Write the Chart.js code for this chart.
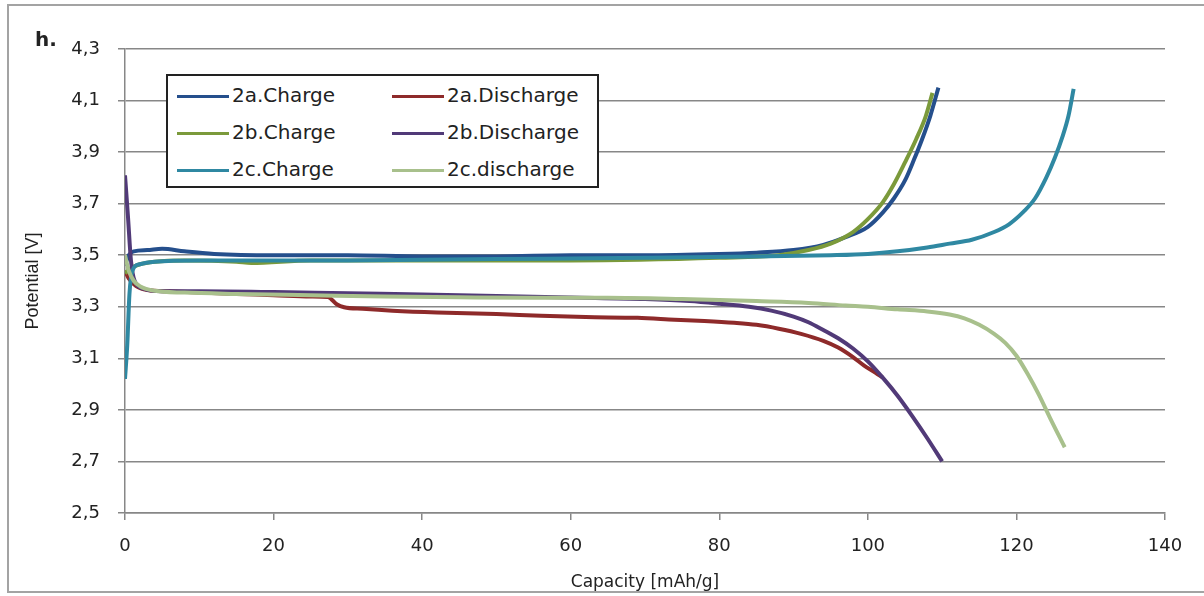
<!DOCTYPE html>
<html lang="en">
<head>
    <meta charset="UTF-8">
    <title>Potential vs Capacity</title>
    <style>
        body {
            margin: 0;
            padding: 0;
            background: #fff;
            font-family: 'DejaVu Sans', sans-serif;
        }
        .wrap {
            position: relative;
            width: 1204px;
            height: 596px;
            overflow: hidden;
        }
        .frame {
            position: absolute;
            left: 7px;
            top: 4px;
            width: 1210px;
            height: 585px;
            border: 2px solid #a3a3a3;
            border-right: none;
        }
        canvas {
            position: absolute;
            left: 0;
            top: 0;
        }
        .tag {
            position: absolute;
            left: 35px;
            top: 27px;
            font-weight: bold;
            font-size: 20px;
            color: #222;
        }
        .legend {
            position: absolute;
            left: 166px;
            top: 74px;
            width: 429px;
            height: 110px;
            border: 2px solid #222;
            background: #fff;
        }
        .legend .item {
            position: absolute;
            height: 24px;
            font-size: 20px;
            line-height: 24px;
            color: #222;
            white-space: nowrap;
        }
        .legend .swatch {
            display: inline-block;
            width: 52px;
            height: 3px;
            vertical-align: middle;
            margin-right: 3px;
        }
    </style>
</head>
<body>
<div class="wrap">
    <div class="frame"></div>
    <canvas id="chart" width="1204" height="596"></canvas>
    <div class="tag">h.</div>
    <div class="legend" id="legend"></div>
</div>

<script src="https://cdn.jsdelivr.net/npm/chart.js"></script>
<script>
    // axis ticks
    const xTicks = [0, 20, 40, 60, 80, 100, 120, 140];
    const yTicks = [2.5, 2.7, 2.9, 3.1, 3.3, 3.5, 3.7, 3.9, 4.1, 4.3];

    // 2a
    const cap2aCharge = [0, 0.5, 1.2, 3, 5, 8, 12, 20, 30, 40, 50, 60, 70, 80, 85, 90, 94, 97, 100, 102, 103.5, 105, 106.2, 107.3, 108.4, 109.5];
    const pot2aCharge = [3.46, 3.50, 3.515, 3.52, 3.525, 3.515, 3.505, 3.50, 3.50, 3.495, 3.495, 3.50, 3.50, 3.505, 3.51, 3.52, 3.54, 3.57, 3.61, 3.665, 3.72, 3.79, 3.87, 3.95, 4.04, 4.15];
    const cap2aDischarge = [0, 0.5, 1.5, 3, 6, 10, 15, 20, 25, 27.3, 28.5, 29.5, 32, 36, 42, 50, 56, 62, 69, 74, 78, 82, 85, 88, 91, 94, 96, 98, 99.5, 101, 102];
    const pot2aDischarge = [3.44, 3.41, 3.38, 3.365, 3.36, 3.355, 3.35, 3.345, 3.34, 3.338, 3.31, 3.298, 3.292, 3.285, 3.278, 3.272, 3.265, 3.26, 3.257, 3.25, 3.245, 3.238, 3.23, 3.215, 3.195, 3.168, 3.142, 3.105, 3.072, 3.045, 3.025];

    // 2b
    const cap2bCharge = [0, 0.8, 2, 4, 8, 15, 17, 25, 40, 60, 80, 88, 92, 95, 98, 100, 102, 103.5, 105, 106.5, 107.8, 108.7];
    const pot2bCharge = [3.43, 3.45, 3.465, 3.475, 3.48, 3.475, 3.47, 3.48, 3.48, 3.48, 3.49, 3.50, 3.52, 3.545, 3.59, 3.64, 3.705, 3.775, 3.86, 3.95, 4.04, 4.13];
    const cap2bDischarge = [0, 0.4, 0.8, 1.3, 2.5, 5, 10, 20, 30, 40, 50, 60, 70, 76, 80, 84, 87, 90, 92, 94, 96, 98, 100, 102, 104, 106, 108, 110];
    const pot2bDischarge = [3.81, 3.65, 3.48, 3.40, 3.37, 3.36, 3.36, 3.357, 3.352, 3.348, 3.342, 3.336, 3.33, 3.322, 3.312, 3.30, 3.285, 3.262, 3.24, 3.21, 3.178, 3.138, 3.088, 3.025, 2.955, 2.875, 2.79, 2.70];

    // 2c
    const cap2cCharge = [0, 0.3, 0.6, 1, 2, 4, 10, 30, 50, 70, 85, 95, 100, 104, 108, 111, 114, 117, 119, 121, 122.5, 124, 125.2, 126.2, 127, 127.7];
    const pot2cCharge = [3.02, 3.15, 3.35, 3.44, 3.465, 3.475, 3.48, 3.48, 3.485, 3.49, 3.495, 3.50, 3.505, 3.515, 3.53, 3.545, 3.56, 3.59, 3.62, 3.67, 3.72, 3.80, 3.88, 3.96, 4.04, 4.145];
    const cap2cDischarge = [0, 0.5, 1.2, 2, 4, 8, 15, 25, 35, 45, 55, 65, 75, 85, 92, 97, 100, 104, 108, 111, 113, 115, 117, 118.5, 120, 121.5, 123, 124.5, 126.5];
    const pot2cDischarge = [3.50, 3.44, 3.40, 3.38, 3.362, 3.355, 3.35, 3.345, 3.34, 3.337, 3.335, 3.335, 3.33, 3.322, 3.315, 3.305, 3.30, 3.29, 3.282, 3.27, 3.255, 3.23, 3.195, 3.16, 3.11, 3.04, 2.96, 2.87, 2.755];

    function toPoints(xs, ys) {
        return xs.map((x, i) => ({ x: x, y: ys[i] }));
    }

    function series(label, xs, ys, color, order) {
        return {
            label: label,
            data: toPoints(xs, ys),
            borderColor: color,
            backgroundColor: color,
            borderWidth: 4,
            pointRadius: 0,
            cubicInterpolationMode: 'monotone',
            fill: false,
            order: order
        };
    }

    const datasets = [
        series('2a.Charge', cap2aCharge, pot2aCharge, '#254f8c', 6),
        series('2a.Discharge', cap2aDischarge, pot2aDischarge, '#8e2a2a', 5),
        series('2b.Charge', cap2bCharge, pot2bCharge, '#7b9a3b', 4),
        series('2b.Discharge', cap2bDischarge, pot2bDischarge, '#513a78', 3),
        series('2c.Charge', cap2cCharge, pot2cCharge, '#2f88a2', 2),
        series('2c.discharge', cap2cDischarge, pot2cDischarge, '#a8c08c', 1)
    ];

    const gridColor = '#878787';
    const tickFont = { family: 'DejaVu Sans', size: 18 };

    const ctx = document.getElementById('chart').getContext('2d');
    const chart = new Chart(ctx, {
        type: 'line',
        data: { datasets: datasets },
        options: {
            responsive: false,
            animation: false,
            devicePixelRatio: 1,
            layout: { padding: { top: 49, right: 39, bottom: 0, left: 0 } },
            plugins: {
                legend: { display: false },
                tooltip: { enabled: false }
            },
            scales: {
                x: {
                    type: 'linear',
                    min: 0,
                    max: 140,
                    afterBuildTicks: (scale) => { scale.ticks = xTicks.map(v => ({ value: v })); },
                    afterFit: (scale) => { scale.height = 83; },
                    grid: {
                        drawOnChartArea: false,
                        drawTicks: true,
                        tickLength: 7,
                        color: gridColor,
                        lineWidth: 1.5
                    },
                    border: { display: true, color: gridColor, width: 1.5 },
                    ticks: {
                        color: '#222',
                        font: tickFont,
                        padding: 16,
                        maxRotation: 0
                    },
                    title: {
                        display: true,
                        text: 'Capacity [mAh/g]',
                        color: '#222',
                        font: { family: 'DejaVu Sans', size: 17 },
                        padding: { top: 0, bottom: 3 }
                    }
                },
                y: {
                    type: 'linear',
                    min: 2.5,
                    max: 4.3,
                    afterBuildTicks: (scale) => { scale.ticks = yTicks.map(v => ({ value: v })); },
                    afterFit: (scale) => { scale.width = 125; },
                    grid: {
                        drawOnChartArea: true,
                        drawTicks: true,
                        tickLength: 7,
                        color: gridColor,
                        lineWidth: 1.5
                    },
                    border: { display: true, color: gridColor, width: 1.5 },
                    ticks: {
                        color: '#222',
                        font: tickFont,
                        padding: 18,
                        callback: (v) => v.toFixed(1).replace('.', ',')
                    },
                    title: {
                        display: true,
                        text: 'Potential [V]',
                        color: '#222',
                        font: { family: 'Liberation Sans', size: 18 },
                        padding: { top: 22, bottom: 0 }
                    }
                }
            }
        }
    });

    // legend box drawn from the datasets, 3 rows x 2 columns
    const legend = document.getElementById('legend');
    const colX = [9, 224];
    const rowY = [7, 44, 81];
    datasets.forEach((ds, i) => {
        const item = document.createElement('div');
        item.className = 'item';
        item.style.left = colX[i % 2] + 'px';
        item.style.top = rowY[Math.floor(i / 2)] + 'px';
        item.innerHTML = '<span class="swatch" style="background:' + ds.borderColor + '"></span>' + ds.label;
        legend.appendChild(item);
    });
</script>
</body>
</html>
